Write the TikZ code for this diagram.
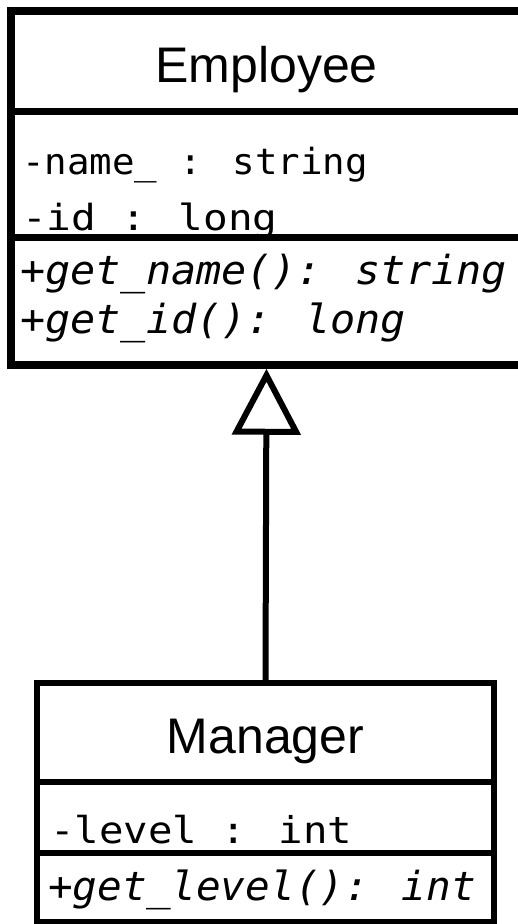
\documentclass[tikz,border=0pt]{standalone}
\usepackage{fontspec}
\usepackage{graphicx}
\setmainfont{Liberation Sans}
\newfontfamily\umlmono{DejaVu Sans Mono}
\usetikzlibrary{arrows.meta}
\newcommand\umlattr[1]{\umlmono\fontsize{#1}{#1}\selectfont}
\newcommand\umlmeth[1]{\umlmono\itshape\fontsize{#1}{#1}\selectfont}
\begin{document}
\begin{tikzpicture}[x=1pt,y=-1pt,
  classbox/.style={draw=black, rectangle, inner sep=0pt},
  titletext/.style={inner sep=0pt, anchor=base, font=\fontsize{50}{50}\selectfont},
  membertext/.style={inner sep=0pt, anchor=base west},
  sepline/.style={line width=7pt},
  inherit/.style={line width=6pt, -{Triangle[open, length=66pt, width=68pt, line width=6pt]}}]
\useasboundingbox (0,0) rectangle (518,924);
\clip (0,0) rectangle (518,924);
% Employee class
\node[classbox, line width=7.5pt, minimum width=511pt, minimum height=354pt] (emp) at (266.5,188) {};
\node[titletext] (empname) at (266.5,82) {Employee};
\node[membertext] (empa1) at (22,174) {\scalebox{1.04}[1]{\umlattr{36}-name\_ : string}};
\node[membertext] (empa2) at (22,230) {\scalebox{1.14}[1]{\umlattr{36}-id : long}};
\node[membertext] (empm1) at (20,284) {\scalebox{1.045}[1]{\umlmeth{40}+get\_name(): string}};
\node[membertext] (empm2) at (20,333) {\scalebox{1.045}[1]{\umlmeth{40}+get\_id(): long}};
\draw[sepline] (11,111) -- (522,111);
\draw[sepline] (11,237) -- (522,237);
% Manager class
\node[classbox, line width=6.5pt, minimum width=457pt, minimum height=239pt] (mgr) at (265.5,802.5) {};
\node[titletext] (mgrname) at (265.5,753) {Manager};
\node[membertext] (mgra1) at (50,843) {\scalebox{1.10}[1]{\umlattr{37}-level : int}};
\node[membertext] (mgrm1) at (48,900) {\scalebox{1.025}[1]{\umlmeth{40}+get\_level(): int}};
\draw[sepline, line width=6.5pt] (37,782) -- (494,782);
\draw[sepline, line width=6.5pt] (37,853) -- (494,853);
% Generalization
\draw[inherit] (mgr.north) -- (emp.south);
\end{tikzpicture}
\end{document}
